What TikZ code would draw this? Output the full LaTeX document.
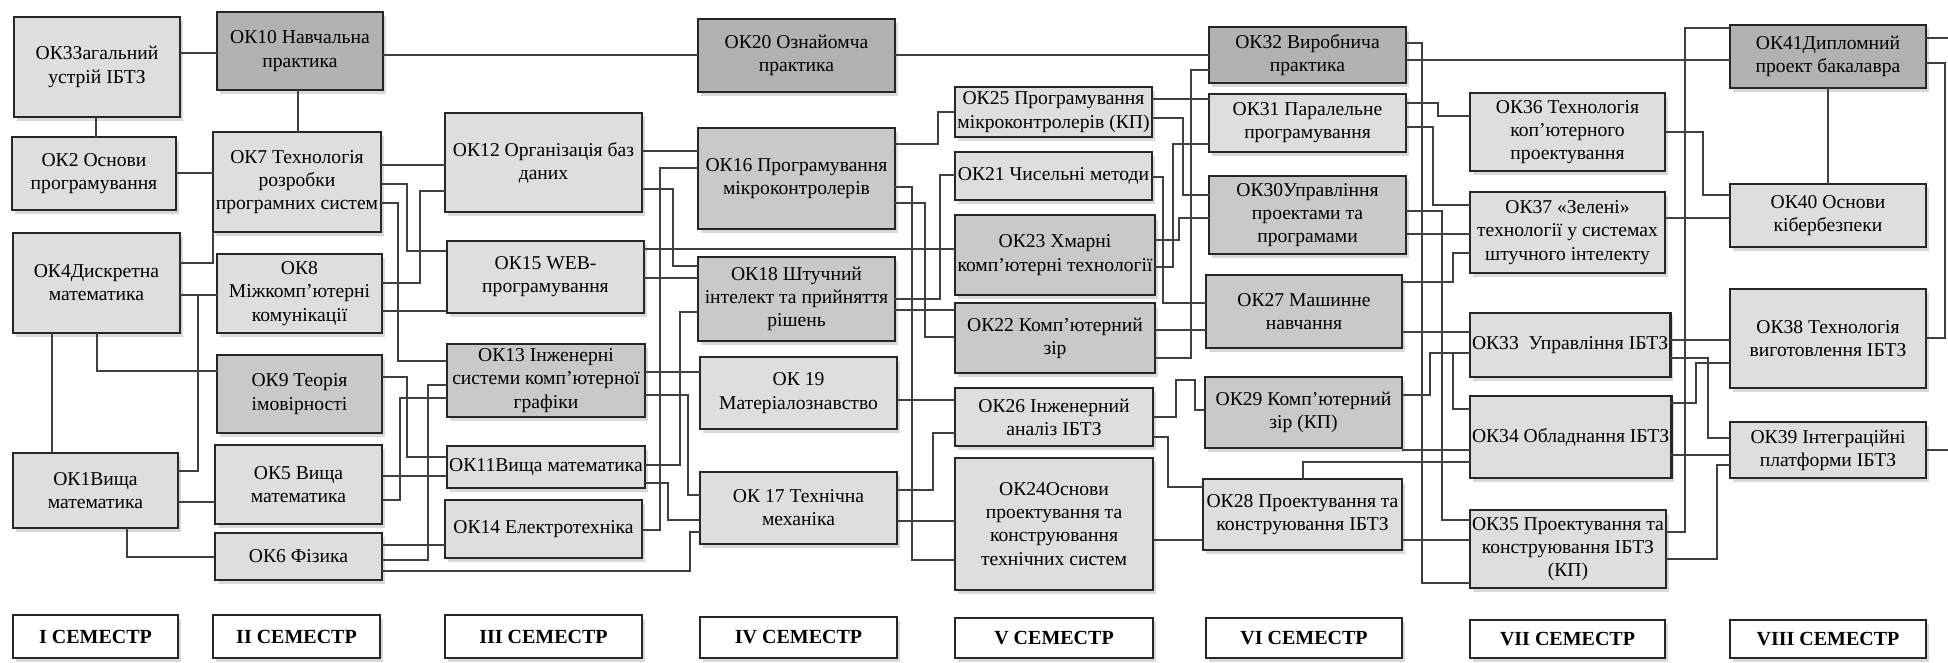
\documentclass[tikz,border=0pt]{standalone}
\usepackage{fontspec}
\setmainfont{Liberation Serif}
\usetikzlibrary{shadows}
\tikzset{
    box/.style={draw=black!85, line width=1.3pt, fill=black!13, align=center,
        inner sep=1pt, outer sep=0pt, anchor=north west,
        font=\fontsize{9.8}{11.6}\selectfont,
        drop shadow={shadow xshift=1.6pt, shadow yshift=-1.8pt, opacity=.3}},
    midbox/.style={box, fill=black!21},
    darkbox/.style={box, fill=black!30},
    sembox/.style={box, fill=white, font=\fontsize{10}{12}\selectfont\bfseries},
    wire/.style={draw=black!75, line width=0.6pt},
    }
% style, name, x1, y1, x2, y2, text
\newcommand{\ok}[7][box]{\node[#1, minimum width={(#5-#3)*0.5pt},
    minimum height={(#6-#4)*0.5pt}] (#2) at (#3,#4) {#7};}

\begin{document}
\begin{tikzpicture}[x=0.5pt, y=-0.5pt]
\useasboundingbox (0,0) rectangle (1948,663);
% I
\ok{ok3}{14}{17}{180}{117}{ОК3Загальний\\ устрій ІБТЗ}
\ok{ok2}{12}{137}{176}{210}{ОК2 Основи\\програмування}
\ok{ok4}{13}{233}{180}{333}{ОК4Дискретна\\математика}
\ok{ok1}{13}{453}{178}{528}{ОК1Вища\\математика}
\ok[sembox]{s1}{13}{615}{178}{658}{I СЕМЕСТР}
% II
\ok[darkbox]{ok10}{217}{12}{383}{90}{ОК10 Навчальна\\практика}
\ok{ok7}{213}{132}{381}{232}{ОК7 Технологія\\розробки\\програмних систем}
\ok{ok8}{217}{254}{382}{333}{ОК8\\Міжкомп’ютерні\\комунікації}
\ok[midbox]{ok9}{217}{355}{382}{433}{ОК9 Теорія\\імовірності}
\ok{ok5}{215}{445}{382}{524}{ОК5 Вища\\математика}
\ok{ok6}{215}{533}{382}{580}{ОК6 Фізика}
\ok[sembox]{s2}{213}{615}{380}{658}{II СЕМЕСТР}
% III
\ok{ok12}{445}{113}{642}{212}{ОК12 Організація баз\\даних}
\ok{ok15}{447}{241}{644}{313}{ОК15 WEB-\\програмування}
\ok[midbox]{ok13}{447}{344}{645}{417}{ОК13 Інженерні\\системи комп’ютерної\\графіки}
\ok{ok11}{447}{446}{645}{488}{ОК11Вища математика}
\ok{ok14}{445}{500}{642}{558}{ОК14 Електротехніка}
\ok[sembox]{s3}{445}{615}{642}{658}{III СЕМЕСТР}
% IV
\ok[darkbox]{ok20}{698}{19}{895}{92}{ОК20 Ознайомча\\практика}
\ok[midbox]{ok16}{698}{128}{895}{229}{ОК16 Програмування\\мікроконтролерів}
\ok[midbox]{ok18}{698}{257}{895}{341}{ОК18 Штучний\\інтелект та прийняття\\рішень}
\ok{ok19}{700}{357}{897}{429}{ОК 19\\Матеріалознавство}
\ok{ok17}{700}{472}{897}{544}{ОК 17 Технічна\\механіка}
\ok[sembox]{s4}{700}{617}{897}{658}{IV СЕМЕСТР}
% V
\ok{ok25}{955}{87}{1152}{137}{ОК25 Програмування\\мікроконтролерів (КП)}
\ok{ok21}{955}{152}{1152}{200}{ОК21 Чисельні методи}
\ok[midbox]{ok23}{955}{215}{1155}{295}{ОК23 Хмарні\\комп’ютерні технології}
\ok[midbox]{ok22}{955}{303}{1155}{373}{ОК22 Комп’ютерний\\зір}
\ok{ok26}{955}{388}{1153}{446}{ОК26 Інженерний\\аналіз ІБТЗ}
\ok{ok24}{955}{458}{1153}{590}{ОК24Основи\\проектування та\\конструювання\\технічних систем}
\ok[sembox]{s5}{955}{618}{1153}{658}{V СЕМЕСТР}
% VI
\ok[darkbox]{ok32}{1209}{27}{1406}{83}{ОК32 Виробнича\\практика}
\ok{ok31}{1209}{94}{1406}{152}{ОК31 Паралельне\\програмування}
\ok[midbox]{ok30}{1209}{176}{1406}{254}{ОК30Управління\\проектами та\\програмами}
\ok[midbox]{ok27}{1206}{275}{1402}{348}{ОК27 Машинне\\навчання}
\ok[midbox]{ok29}{1205}{377}{1402}{448}{ОК29 Комп’ютерний\\зір (КП)}
\ok{ok28}{1203}{479}{1402}{550}{ОК28 Проектування та\\конструювання ІБТЗ}
\ok[sembox]{s6}{1206}{618}{1402}{658}{VI СЕМЕСТР}
% VII
\ok{ok36}{1470}{93}{1665}{171}{ОК36 Технологія\\коп’ютерного\\проектування}
\ok{ok37}{1470}{192}{1665}{273}{ОК37 «Зелені»\\технології у системах\\штучного інтелекту}
\ok{ok33}{1470}{313}{1665}{377}{ОК33\ \ Управління ІБТЗ}
\ok{ok34}{1470}{396}{1665}{478}{ОК34 Обладнання ІБТЗ}
\ok{ok35}{1470}{510}{1665}{588}{ОК35 Проектування та\\конструювання ІБТЗ\\(КП)}
\ok[sembox]{s7}{1470}{620}{1665}{658}{VII СЕМЕСТР}
% VIII
\ok[darkbox]{ok41}{1730}{25}{1926}{88}{ОК41Дипломний\\проект бакалавра}
\ok{ok40}{1730}{184}{1926}{247}{ОК40 Основи\\кібербезпеки}
\ok{ok38}{1730}{289}{1926}{388}{ОК38 Технологія\\виготовлення ІБТЗ}
\ok{ok39}{1730}{422}{1926}{478}{ОК39 Інтеграційні\\платформи ІБТЗ}
\ok[sembox]{s8}{1730}{620}{1926}{658}{VIII СЕМЕСТР}
\coordinate (out1) at (1948,38);
\coordinate (out2) at (1948,450);

% I -> II
\draw[wire] (ok3.east|-0,53) -- (ok10.west|-0,53);
\draw[wire] (ok3.south-|96,0) -- (ok2.north-|96,0);
\draw[wire] (ok10.south-|298,0) -- (ok7.north-|298,0);
\draw[wire] (ok2.east|-0,173) -- (ok7.west|-0,173);
\draw[wire] (ok4.east|-0,263) -| (ok7.south west);
\draw[wire] (ok4.east|-0,295) -- (ok8.west|-0,295);
\draw[wire] (ok1.east|-0,471) -| (198,295);
\draw[wire] (ok4.south-|52,0) -- (ok1.north-|52,0);
\draw[wire] (ok4.south-|97,0) |- (ok9.west|-0,371);
\draw[wire] (ok1.east|-0,502) -- (ok5.west|-0,502);
\draw[wire] (ok1.south-|127,0) |- (ok6.west|-0,557);
% II -> III
\draw[wire] (ok10.east|-0,55) -- (ok20.west|-0,55);
\draw[wire] (ok7.east|-0,165) -- (ok12.west|-0,165);
\draw[wire] (ok7.east|-0,184) -| (407,251) -- (ok15.west|-0,251);
\draw[wire] (ok7.east|-0,203) -| (398,361) -- (ok13.west|-0,361);
\draw[wire] (ok8.east|-0,283) -| (420,191) -- (ok12.west|-0,191);
\draw[wire] (ok8.east|-0,311) -- (ok15.west|-0,311);
\draw[wire] (ok9.east|-0,377) -| (407,457) -- (ok11.west|-0,457);
\draw[wire] (ok5.east|-0,500) -| (400,398) -- (ok13.west|-0,398);
\draw[wire] (ok5.east|-0,476) -- (ok11.west|-0,476);
\draw[wire] (ok6.east|-0,545) -- (ok14.west|-0,545);
\draw[wire] (ok6.east|-0,560) -| (428,385) -- (ok13.west|-0,385);
\draw[wire] (ok6.east|-0,571) -| (690,532) -- (ok17.west|-0,532);
% III -> IV
\draw[wire] (ok12.east|-0,151) -- (ok16.west|-0,151);
\draw[wire] (ok12.east|-0,189) -| (673,266) -- (ok18.west|-0,266);
\draw[wire] (ok15.east|-0,249) -- (ok23.west|-0,249);
\draw[wire] (ok15.east|-0,278) -- (ok18.west|-0,278);
\draw[wire] (ok11.east|-0,465) -| (680,312) -- (ok18.west|-0,312);
\draw[wire] (ok13.east|-0,372) -- (ok19.west|-0,372);
\draw[wire] (ok13.east|-0,395) -| (688,495) -- (ok17.west|-0,495);
\draw[wire] (ok11.east|-0,483) -| (668,520) -- (ok17.west|-0,520);
\draw[wire] (ok14.east|-0,530) -| (660,168) -- (ok16.west|-0,168);
% IV -> V
\draw[wire] (ok20.east|-0,55) -- (ok32.west|-0,55);
\draw[wire] (ok16.east|-0,144) -| (938,112) -- (ok25.west|-0,112);
\draw[wire] (ok16.east|-0,187) -| (912,560) -- (ok24.west|-0,560);
\draw[wire] (ok16.east|-0,203) -| (925,337) -- (ok22.west|-0,337);
\draw[wire] (ok18.east|-0,299) -| (940,175) -- (ok21.west|-0,175);
\draw[wire] (ok18.east|-0,310) -- (ok22.west|-0,310);
\draw[wire] (ok19.east|-0,400) -- (ok26.west|-0,400);
\draw[wire] (ok17.east|-0,490) -| (933,433) -- (ok26.west|-0,433);
\draw[wire] (ok17.east|-0,521) -- (ok24.west|-0,521);
% V -> VI
\draw[wire] (ok25.east|-0,99) -- (ok31.west|-0,99);
\draw[wire] (ok25.east|-0,118) -| (1183,195) -- (ok30.west|-0,195);
\draw[wire] (ok23.east|-0,267) -| (1173,144) -- (ok31.west|-0,144);
\draw[wire] (ok23.east|-0,240) -| (1179,218) -- (ok30.west|-0,218);
\draw[wire] (ok21.east|-0,177) -| (1163,303) -- (ok27.west|-0,303);
\draw[wire] (ok22.east|-0,330) -- (ok27.west|-0,330);
\draw[wire] (ok22.east|-0,358) -| (1191,70) -- (ok32.west|-0,70);
\draw[wire] (ok26.east|-0,417) -| (1176,380) -| (1195,410) -- (ok29.west|-0,410);
\draw[wire] (ok26.east|-0,437) -| (1168,487) -- (ok28.west|-0,487);
\draw[wire] (ok24.east|-0,540) -- (ok28.west|-0,540);
% VI -> VII
\draw[wire] (ok32.east|-0,60) -- (ok41.west|-0,60);
\draw[wire] (ok32.east|-0,43) -| (1422,583) -- (ok35.west|-0,583);
\draw[wire] (ok31.east|-0,103) -| (1438,116) -- (ok36.west|-0,116);
\draw[wire] (ok31.east|-0,127) -| (1433,205) -- (ok37.west|-0,205);
\draw[wire] (ok30.east|-0,234) -- (ok37.west|-0,234);
\draw[wire] (ok30.east|-0,211) -| (1442,520) -- (ok35.west|-0,520);
\draw[wire] (ok27.east|-0,282) -| (1453,253) -- (ok37.west|-0,253);
\draw[wire] (ok27.east|-0,332) -- (ok33.west|-0,332);
\draw[wire] (ok29.east|-0,395) -| (1430,353) -- (ok33.west|-0,353);
\draw[wire] (1453,353) |- (ok34.west|-0,409);
\draw[wire] (ok29.east|-0,450) -- (ok34.west|-0,450);
\draw[wire] (ok28.north-|1303,0) |- (ok34.west|-0,462);
\draw[wire] (ok28.east|-0,540) -- (ok35.west|-0,540);
% VII -> VIII
\draw[wire] (ok36.east|-0,132) -| (1703,195) -- (ok40.west|-0,195);
\draw[wire] (ok37.east|-0,218) -- (ok40.west|-0,218);
\draw[wire] (ok35.east|-0,532) -| (1685,28) -- (ok41.west|-0,28);
\draw[wire] (ok33.east|-0,340) -- (ok38.west|-0,340);
\draw[wire] (ok33.east|-0,358) -| (1708,438) -- (ok39.west|-0,438);
\draw[wire] (ok34.east|-0,403) -| (1696,363) -- (ok38.west|-0,363);
\draw[wire] (ok34.east|-0,455) -- (ok39.west|-0,455);
\draw[wire] (ok35.east|-0,559) -| (1717,465) -- (ok39.west|-0,465);
\draw[wire] (ok40.north-|1828,0) -- (ok41.south-|1828,0);
\draw[wire] (ok41.east|-0,63) -| (1945,338) -- (ok38.east|-0,338);
\draw[wire] (ok41.east|-0,38) -- (out1);
\draw[wire] (ok39.east|-0,450) -- (out2);
\end{tikzpicture}
\end{document}
